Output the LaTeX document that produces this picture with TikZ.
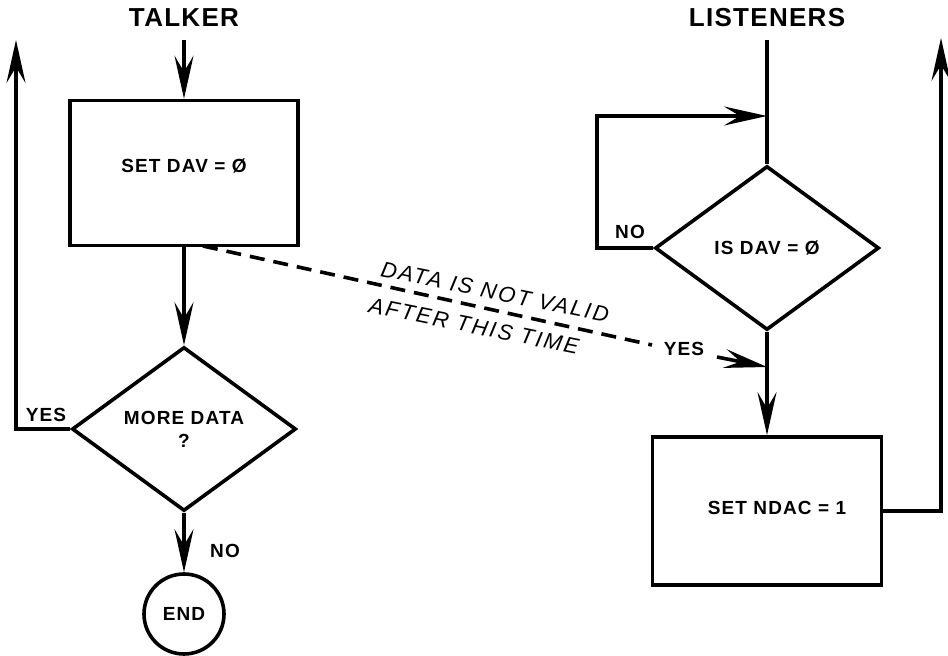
\documentclass[tikz,border=0pt]{standalone}
\usepackage{fontspec}
\setmainfont{Liberation Sans}
\newfontfamily\lblfont[LetterSpace=6]{Liberation Sans}
\newfontfamily\ttlfont[LetterSpace=5]{Liberation Sans}
\newfontfamily\notefont[LetterSpace=10]{Liberation Sans}
\usetikzlibrary{arrows.meta,shapes.geometric}
\begin{document}
\begin{tikzpicture}[x=1pt,y=-1pt,
  line width=3.6pt, line join=miter,
  lblfnt/.style={font=\lblfont\bfseries\fontsize{19}{23}\selectfont},
  procbox/.style={draw, rectangle, minimum width=228pt, minimum height=145pt, inner sep=0pt, lblfnt},
  decide/.style={draw, diamond, shape aspect=1.37, minimum width=224pt, minimum height=164pt, inner sep=0pt, align=center, lblfnt},
  endnode/.style={draw, circle, minimum size=80pt, inner sep=0pt, lblfnt},
  lbl/.style={inner sep=0pt, lblfnt},
  ttl/.style={inner sep=0pt, font=\ttlfont\bfseries\fontsize{26}{30}\selectfont},
  note/.style={inner sep=0pt, rotate=-11.5, font=\notefont\itshape\fontsize{22}{26}\selectfont},
  arr/.style={-{Stealth[length=43pt,width=19pt,inset=16pt]}},
  dash line/.style={dash pattern=on 15pt off 9pt}
]
\useasboundingbox (0,0) rectangle (948,656);

% titles
\node[ttl] (talker) at (184,18) {TALKER};
\node[ttl] (listeners) at (767,18) {LISTENERS};

% talker side
\node[procbox, text depth=14pt] (b1) at (184,173) {SET DAV = Ø};
\node[decide] (d1) at (184,429) {MORE DATA\\?};
\node[endnode] (end) at (184,614) {END};

% listener side
\node[decide] (d2) at (767,248) {IS DAV = Ø};
\node[procbox, minimum width=229pt, minimum height=148pt, text depth=6pt] (b2) at (767,511) {\hspace*{20pt}SET NDAC = 1};

% coordinates for free ends and bends
\coordinate (tin) at (184,40);
\coordinate (lin) at (767,40);
\coordinate (ltop) at (16,40);
\coordinate (rtop) at (941,38);
\coordinate (noloop) at (597,116);
\coordinate (ds) at (203,246);
\coordinate (de) at (652,345);
\coordinate (as) at (717,357);
\coordinate (ae) at (767,367);

% connectors
\draw[arr] (tin) -- (b1.north);
\draw[arr] (b1.south) -- (d1.north);
\draw[arr] (d1.south) -- (end.north);
\draw[arr] (d1.west) -| (ltop);
\draw (lin) -- (d2.north);
\draw[arr] (d2.west) -| (noloop) -- (noloop -| d2.north);
\draw[arr] (d2.south) -- (b2.north);
\draw[arr] (b2.east) -| (rtop);
\draw[dash line] (ds) -- (de);
\draw[arr] (as) -- (ae);

% labels
\node[lbl] (yes1) at (46,415) {YES};
\node[lbl] (no1) at (225,551) {NO};
\node[lbl] (no2) at (630,232) {NO};
\node[lbl] (yes2) at (684,349) {YES};
\node[note] (note1) at (495,292) {DATA IS NOT VALID};
\node[note] (note2) at (474,326) {AFTER THIS TIME};
\end{tikzpicture}
\end{document}
